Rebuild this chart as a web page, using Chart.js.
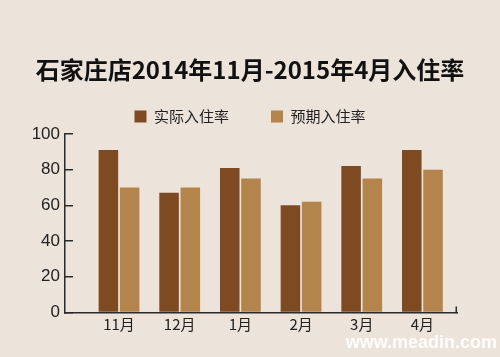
<!DOCTYPE html>
<html>
<head>
<meta charset="utf-8">
<script src="https://cdn.jsdelivr.net/npm/chart.js@4/dist/chart.umd.min.js"></script>
<style>
html,body{margin:0;padding:0;background:#ece3da;}
#wrap{width:500px;height:357px;}
</style>
</head>
<body>
<div id="wrap"><canvas id="c" width="500" height="357"></canvas></div>
<script>
const titleText = '石家庄店2014年11月-2015年4月入住率';
const categories = ['11月', '12月', '1月', '2月', '3月', '4月'];
const seriesNames = ['实际入住率', '预期入住率'];
const actualRate = [91, 67, 81, 60, 82, 91];
const expectedRate = [70, 70, 75, 62, 75, 80];
const yTicks = [0, 20, 40, 60, 80, 100];
const watermark = 'www.meadin.com';

const xMin = -0.89, xMax = 5.57;
const axisColor = '#2b2b2b';
const cjk = '"Noto Sans CJK SC", "Noto Sans", sans-serif';

const endTick = {
  id: 'endTick',
  afterDraw(chart) {
    const s = chart.scales.x, ctx = chart.ctx;
    ctx.save();
    ctx.strokeStyle = axisColor;
    ctx.lineWidth = 1.5;
    ctx.beginPath();
    ctx.moveTo(s.right - 0.75, s.top + 0.75);
    ctx.lineTo(s.right - 0.75, s.top - 6);
    ctx.stroke();
    ctx.restore();
  }
};

new Chart(document.getElementById('c'), {
  type: 'bar',
  data: {
    datasets: [
      { label: seriesNames[0], data: actualRate.map((v, i) => ({ x: i, y: v })), backgroundColor: '#7e4a22', borderWidth: 0 },
      { label: seriesNames[1], data: expectedRate.map((v, i) => ({ x: i, y: v })), backgroundColor: '#b3844c', borderWidth: 0 }
    ]
  },
  plugins: [endTick],
  options: {
    responsive: false,
    animation: false,
    devicePixelRatio: 1,
    categoryPercentage: 0.7,
    barPercentage: 0.92,
    layout: { padding: { left: 3, right: 3, top: 0, bottom: 0 } },
    plugins: {
      title: {
        display: true,
        text: titleText,
        color: '#111',
        font: { family: cjk, size: 24, weight: 'bold' },
        padding: { top: 28, bottom: -17 }
      },
      subtitle: {
        display: true,
        text: watermark,
        position: 'bottom',
        align: 'end',
        color: 'rgba(255,255,255,0.9)',
        font: { family: 'Arial, "Liberation Sans", sans-serif', size: 18, weight: 'bold' },
        padding: { top: -4, bottom: 3 }
      },
      legend: {
        display: true,
        position: 'top',
        labels: {
          color: '#222',
          font: { family: cjk, size: 15 },
          boxWidth: 12,
          boxHeight: 12,
          padding: 42
        }
      },
      tooltip: { enabled: false }
    },
    scales: {
      x: {
        type: 'linear',
        min: xMin,
        max: xMax,
        offset: false,
        afterBuildTicks: s => { s.ticks = categories.map((c, i) => ({ value: i })); },
        ticks: {
          autoSkip: false,
          maxRotation: 0,
          padding: 3,
          color: '#222',
          font: { family: cjk, size: 15 },
          callback: (v) => (Number.isInteger(v) && categories[v] !== undefined) ? categories[v] : ''
        },
        grid: { display: false, drawOnChartArea: false, drawTicks: false },
        border: { display: true, color: axisColor, width: 1.5 }
      },
      y: {
        min: 0,
        max: 100,
        afterBuildTicks: s => { s.ticks = yTicks.map(v => ({ value: v })); },
        afterFit: s => { s.width = 62; s.paddingTop = 134; },
        ticks: {
          padding: 13,
          color: '#222',
          font: { family: 'Arial, "Liberation Sans", sans-serif', size: 17 }
        },
        grid: {
          drawOnChartArea: false,
          drawTicks: true,
          tickLength: -8,
          lineWidth: 1.5,
          color: axisColor
        },
        border: { display: true, color: axisColor, width: 1.5 }
      },
      yRight: {
        position: 'right',
        display: true,
        afterFit: s => { s.width = 40; },
        ticks: { display: false },
        grid: { display: false },
        border: { display: false }
      }
    }
  }
});
</script>
</body>
</html>
